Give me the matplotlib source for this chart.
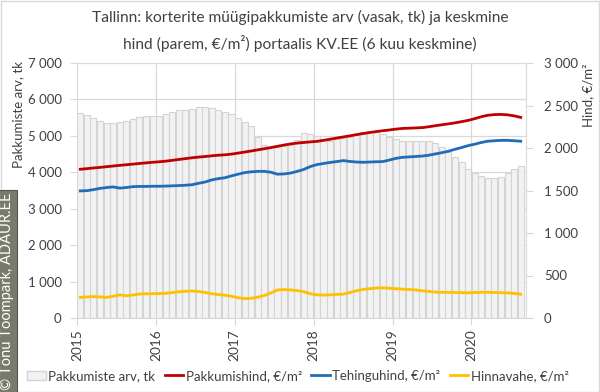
import matplotlib
matplotlib.use("Agg")
import matplotlib.pyplot as plt
from matplotlib.patches import Rectangle, Patch
from matplotlib.lines import Line2D
import numpy as np

plt.rcParams['font.family'] = ['Lato', 'DejaVu Sans']

# --- data (monthly, Jan 2015 .. Aug 2020) ---
years = ['2015', '2016', '2017', '2018', '2019', '2020']

listings = [5620, 5565, 5480, 5400, 5345, 5345, 5370, 5420, 5455, 5510, 5555, 5555,
            5555, 5600, 5655, 5700, 5705, 5730, 5790, 5790, 5755, 5700, 5645, 5590,
            5480, 5370, 5280, 4980, 4750, 4700, 4700, 4720, 4760, 4900, 5085, 5050,
            4995, 4905, 4870, 4905, 4930, 4975, 5025, 5095, 5130, 5095, 5050, 4975,
            4905, 4870, 4850, 4850, 4850, 4850, 4795, 4685, 4550, 4410, 4275, 4080,
            3970, 3900, 3835, 3835, 3860, 3970, 4080, 4170]

ask_price = [1750, 1757, 1765, 1772, 1780, 1788, 1796, 1803, 1810, 1818, 1825, 1832,
             1838, 1845, 1855, 1865, 1875, 1885, 1893, 1900, 1908, 1915, 1920, 1928,
             1940, 1952, 1965, 1978, 1992, 2005, 2020, 2035, 2048, 2058, 2065, 2072,
             2078, 2090, 2103, 2117, 2130, 2143, 2157, 2170, 2182, 2193, 2203, 2212,
             2222, 2230, 2233, 2236, 2240, 2250, 2262, 2273, 2284, 2296, 2310, 2325,
             2345, 2368, 2385, 2393, 2395, 2390, 2378, 2360]

deal_price = [1495, 1498, 1510, 1525, 1535, 1542, 1528, 1535, 1545, 1548, 1548, 1550,
              1550, 1552, 1555, 1558, 1562, 1568, 1585, 1600, 1625, 1640, 1650, 1672,
              1692, 1710, 1720, 1725, 1725, 1715, 1692, 1695, 1705, 1725, 1748, 1782,
              1805, 1818, 1830, 1840, 1852, 1842, 1835, 1832, 1835, 1838, 1840, 1858,
              1878, 1890, 1895, 1900, 1905, 1915, 1930, 1945, 1962, 1985, 2005, 2028,
              2045, 2065, 2080, 2085, 2090, 2090, 2085, 2080]

price_gap = [242, 248, 252, 248, 242, 255, 272, 262, 270, 282, 285, 286,
             287, 290, 300, 308, 314, 318, 312, 300, 285, 276, 268, 255,
             238, 228, 232, 245, 265, 295, 330, 334, 330, 322, 310, 285,
             272, 270, 273, 278, 280, 300, 320, 336, 345, 352, 355, 350,
             344, 340, 336, 330, 320, 312, 305, 302, 302, 300, 298, 296,
             300, 302, 302, 300, 298, 295, 290, 280]

labels = ['Pakkumiste arv, tk', 'Pakkumishind, €/m²', 'Tehinguhind, €/m²', 'Hinnavahe, €/m²']
colors = ['#F2F2F2', '#C00000', '#1F6DB6', '#FFC000']

n = len(listings)
x = np.arange(n) + 0.5

fig = plt.figure(figsize=(6.0, 3.92), dpi=100)
W, H = 600, 392
ax = fig.add_axes([77 / W, 1 - 318 / H, (526 - 77) / W, (318 - 63) / H])
ax2 = ax.twinx()

grid_c = '#D9D9D9'
txt_c = '#404040'

ax.set_axisbelow(True)
ax.bar(x, listings, width=0.92, color=colors[0], edgecolor='#D4D4D4', linewidth=0.8, zorder=2)
ax.set_xlim(0, 68.3)
ax.set_ylim(0, 7000)
ax.set_yticks(range(0, 7001, 1000))
ax.set_yticklabels([f'{v:,}'.replace(',', ' ') for v in range(0, 7001, 1000)])
ax.yaxis.grid(True, color=grid_c, linewidth=0.9, zorder=0)
year_pos = [12 * i for i in range(len(years))]
ax.set_xticks(year_pos)
ax.set_xticklabels(years, rotation=90, va='top')
for p in year_pos[1:]:
    ax.axvline(p, color=grid_c, linewidth=0.9, zorder=0)

for a in (ax, ax2):
    for s in a.spines.values():
        s.set_visible(False)
ax.spines['left'].set_visible(True)
ax.spines['left'].set_color(grid_c)
ax.spines['bottom'].set_visible(True)
ax.spines['bottom'].set_color(grid_c)
ax2.spines['right'].set_visible(True)
ax2.spines['right'].set_color(grid_c)

ax.tick_params(axis='y', length=5, color=grid_c, labelsize=9.5, labelcolor=txt_c, pad=6)
ax.tick_params(axis='x', length=5, color=grid_c, labelsize=9.8, labelcolor=txt_c, pad=3)

ax2.plot(x, ask_price, color=colors[1], linewidth=2.0, zorder=4)
ax2.plot(x, deal_price, color=colors[2], linewidth=2.0, zorder=4)
ax2.plot(x, price_gap, color=colors[3], linewidth=2.0, zorder=4)
ax2.set_ylim(0, 3000)
ax2.set_yticks(range(0, 3001, 500))
ax2.set_yticklabels([f'{v:,}'.replace(',', ' ') for v in range(0, 3001, 500)])
ax2.tick_params(axis='y', length=5, color=grid_c, labelsize=9.5, labelcolor=txt_c, pad=8)

# axis titles
fig.text(18 / W, 1 - 115 / H, 'Pakkumiste arv, tk', rotation=90, ha='center', va='center',
         fontsize=9.5, color=txt_c)
fig.text(588 / W, 1 - 95 / H, 'Hind, €/m²', rotation=90, ha='center', va='center',
         fontsize=9.5, color=txt_c)

# title
fig.text(0.5, 1 - 17 / H, 'Tallinn: korterite müügipakkumiste arv (vasak, tk) ja keskmine',
         ha='center', va='center', fontsize=11.2, color=txt_c)
fig.text(0.5, 1 - 43 / H, 'hind (parem, €/m²) portaalis KV.EE (6 kuu keskmine)',
         ha='center', va='center', fontsize=11.2, color=txt_c)

# legend
handles = [Patch(facecolor=colors[0], edgecolor='#D4D4D4'),
           Line2D([], [], color=colors[1], linewidth=2.0),
           Line2D([], [], color=colors[2], linewidth=2.0),
           Line2D([], [], color=colors[3], linewidth=2.0)]
fig.legend(handles, labels, loc='center', bbox_to_anchor=(298 / W, 1 - 376 / H), ncol=4,
           frameon=False, fontsize=9.5, handlelength=1.4, handletextpad=0.2,
           columnspacing=0.7, labelcolor=txt_c)

# copyright strip
fig.text(7.5 / W, 1 - 390 / H, '© Tõnu Toompark, ADAUR.EE', rotation=90, ha='center', va='bottom',
         fontsize=10.5, color='white',
         bbox=dict(boxstyle='square,pad=0.2', facecolor='#7A7A6C', edgecolor='#55554A', linewidth=0.8))

# figure frame
fig.patches.append(Rectangle((0.5 / W, 0.5 / H), 1 - 1.5 / W, 1 - 1.5 / H, transform=fig.transFigure,
                             fill=False, edgecolor='#D9D9D9', linewidth=1.0))

fig.savefig('out.png', dpi=100)
